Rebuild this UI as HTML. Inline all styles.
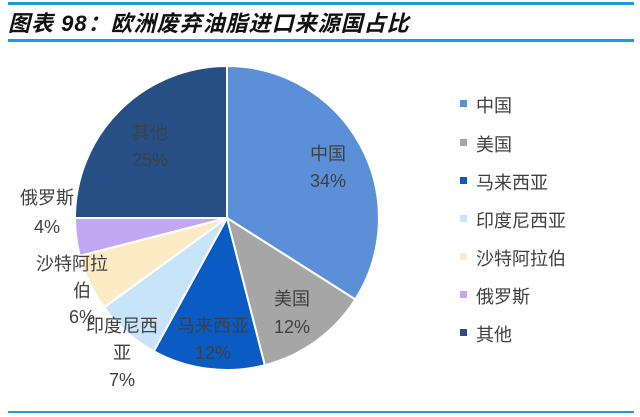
<!DOCTYPE html>
<html><head><meta charset="utf-8"><style>
body{margin:0;background:#fff;width:640px;height:417px;overflow:hidden;position:relative;font-family:"Liberation Sans","Noto Sans CJK SC",sans-serif}
.t{position:absolute;left:8px;top:6px;font-size:22px;font-weight:bold;font-style:italic;color:#111;letter-spacing:1px}
.l{position:absolute;left:8px;right:6px;height:3px;background:#1E9BE0}
</style></head><body>
<div class="l" style="top:2px"></div>
<div class="t">图表 98：欧洲废弃油脂进口来源国占比</div>
<div class="l" style="top:39px"></div>
<div class="l" style="top:411px;height:2px"></div>
<svg width="640" height="417" style="position:absolute;left:0;top:0" font-family="Liberation Sans, Noto Sans CJK SC, sans-serif" font-size="18">
<g stroke="#fff" stroke-width="2">
<path d="M227 218 L227 66 A152 152 0 0 1 355.3 299.4Z" fill="#5B8FD8"/>
<path d="M227 218 L355.3 299.4 A152 152 0 0 1 264.8 365.2Z" fill="#A6A6A6"/>
<path d="M227 218 L264.8 365.2 A152 152 0 0 1 153.8 351.2Z" fill="#0A5BC4"/>
<path d="M227 218 L153.8 351.2 A152 152 0 0 1 104 307.3Z" fill="#C7E4F8"/>
<path d="M227 218 L104 307.3 A152 152 0 0 1 79.8 255.8Z" fill="#FDEBC6"/>
<path d="M227 218 L79.8 255.8 A152 152 0 0 1 75 218Z" fill="#C2A8F2"/>
<path d="M227 218 L75 218 A152 152 0 0 1 227 66Z" fill="#264F86"/>
</g>
<g fill="#404040" text-anchor="middle">
<text x="328" y="160">中国</text><text x="328" y="187">34%</text>
<text x="292" y="305">美国</text><text x="292" y="333">12%</text>
<text x="213" y="332">马来西亚</text><text x="213" y="359">12%</text>
<text x="122" y="332">印度尼西</text><text x="122" y="359">亚</text><text x="122" y="386">7%</text>
<text x="72" y="270">沙特阿拉</text><text x="82" y="297">伯</text><text x="82" y="323">6%</text>
<text x="47" y="204">俄罗斯</text><text x="47" y="233">4%</text>
<text x="150" y="139">其他</text><text x="150" y="166">25%</text>
</g>
<g fill="#404040">
<rect x="460" y="100" width="7" height="7" fill="#5B8FD8"/><text x="476" y="112">中国</text>
<rect x="460" y="139" width="7" height="7" fill="#A6A6A6"/><text x="476" y="151">美国</text>
<rect x="460" y="177" width="7" height="7" fill="#0A5BC4"/><text x="476" y="189">马来西亚</text>
<rect x="460" y="215" width="7" height="7" fill="#C7E4F8"/><text x="476" y="227">印度尼西亚</text>
<rect x="460" y="253" width="7" height="7" fill="#FDEBC6"/><text x="476" y="265">沙特阿拉伯</text>
<rect x="460" y="291" width="7" height="7" fill="#C2A8F2"/><text x="476" y="303">俄罗斯</text>
<rect x="460" y="329" width="7" height="7" fill="#264F86"/><text x="476" y="341">其他</text>
</g>
</svg>
</body></html>
